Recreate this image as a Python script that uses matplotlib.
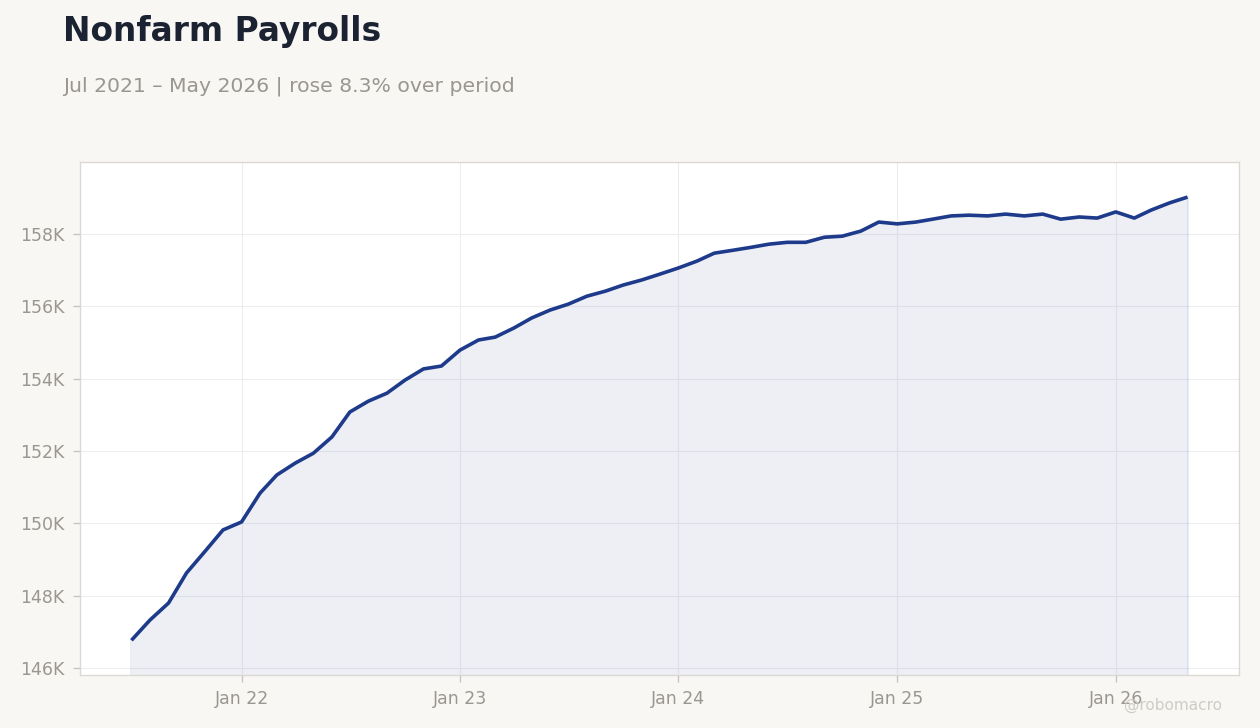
import matplotlib
matplotlib.use("Agg")
import matplotlib.pyplot as plt
import matplotlib.dates as mdates
import numpy as np
import pandas as pd

# Data (thousands of jobs), monthly Jul 2021 - May 2026
start_month = "2021-07-01"
end_month = "2026-05-01"
payrolls_k = [
    146.77, 147.33, 147.80, 148.63, 149.23, 149.82,          # 2021 Jul-Dec
    150.04, 150.84, 151.34, 151.67, 151.94, 152.39,          # 2022 Jan-Jun
    153.08, 153.38, 153.60, 153.96, 154.27, 154.35,          # 2022 Jul-Dec
    154.79, 155.07, 155.15, 155.40, 155.68, 155.90,          # 2023 Jan-Jun
    156.06, 156.28, 156.42, 156.59, 156.73, 156.89,          # 2023 Jul-Dec
    157.06, 157.25, 157.47, 157.55, 157.63, 157.72,          # 2024 Jan-Jun
    157.77, 157.77, 157.91, 157.94, 158.08, 158.33,          # 2024 Jul-Dec
    158.28, 158.33, 158.41, 158.50, 158.52, 158.50,          # 2025 Jan-Jun
    158.55, 158.50, 158.55, 158.41, 158.47, 158.44,          # 2025 Jul-Dec
    158.61, 158.44, 158.66, 158.86, 159.02,                  # 2026 Jan-May
]
ytick_vals = [146, 148, 150, 152, 154, 156, 158]
ytick_labels = ["146K", "148K", "150K", "152K", "154K", "156K", "158K"]
xtick_dates = ["2022-01-01", "2023-01-01", "2024-01-01", "2025-01-01", "2026-01-01"]
xtick_labels = ["Jan 22", "Jan 23", "Jan 24", "Jan 25", "Jan 26"]
title = "Nonfarm Payrolls"
subtitle = "Jul 2021 \u2013 May 2026 | rose 8.3% over period"
watermark = "@robomacro"

dates = pd.date_range(start_month, end_month, freq="MS")
vals = np.array(payrolls_k)

BG = "#f8f7f4"
LINE = "#1e3a8a"
GRAY = "#9a9690"

fig = plt.figure(figsize=(12.6, 7.28), dpi=100, facecolor=BG)
ax = fig.add_axes([80 / 1260, 1 - 675 / 728, (1239 - 80) / 1260, (675 - 162) / 728])
ax.set_facecolor("white")

ymin = 145.81
ax.fill_between(dates, vals, ymin, color=LINE, alpha=0.08, linewidth=0)
ax.plot([dates[-1], dates[-1]], [ymin, vals[-1]], color=LINE, alpha=0.1, lw=1.2)
ax.plot([dates[0], dates[0]], [ymin, vals[0]], color=LINE, alpha=0.1, lw=1.2)
ax.plot(dates, vals, color=LINE, lw=2.6, solid_capstyle="butt", solid_joinstyle="round", zorder=3)

ax.set_ylim(ymin, 159.99)
ax.set_xlim(pd.Timestamp("2021-04-06"), pd.Timestamp("2026-07-26"))

ax.set_yticks(ytick_vals)
ax.set_yticklabels(ytick_labels)
ax.set_xticks([pd.Timestamp(d) for d in xtick_dates])
ax.set_xticklabels(xtick_labels)

ax.grid(True, color="#ededf0", lw=0.8)
ax.set_axisbelow(True)
for s in ax.spines.values():
    s.set_color("#dcd9d4")
    s.set_linewidth(1.0)
ax.tick_params(colors="#c8c5c0", labelcolor=GRAY, labelsize=12.5, length=5, width=1, pad=6)

fig.text(63 / 1260, 1 - 31 / 728, title, fontsize=23.7, fontweight="bold", color="#1b2333",
         ha="left", va="center")
fig.text(63 / 1260, 1 - 86 / 728, subtitle, fontsize=14.65, color=GRAY, ha="left", va="center")
fig.text(1222 / 1260, 1 - 705 / 728, watermark, fontsize=11, color="#cfccc7", ha="right", va="center")

fig.savefig("out.png", dpi=100, facecolor=BG)
